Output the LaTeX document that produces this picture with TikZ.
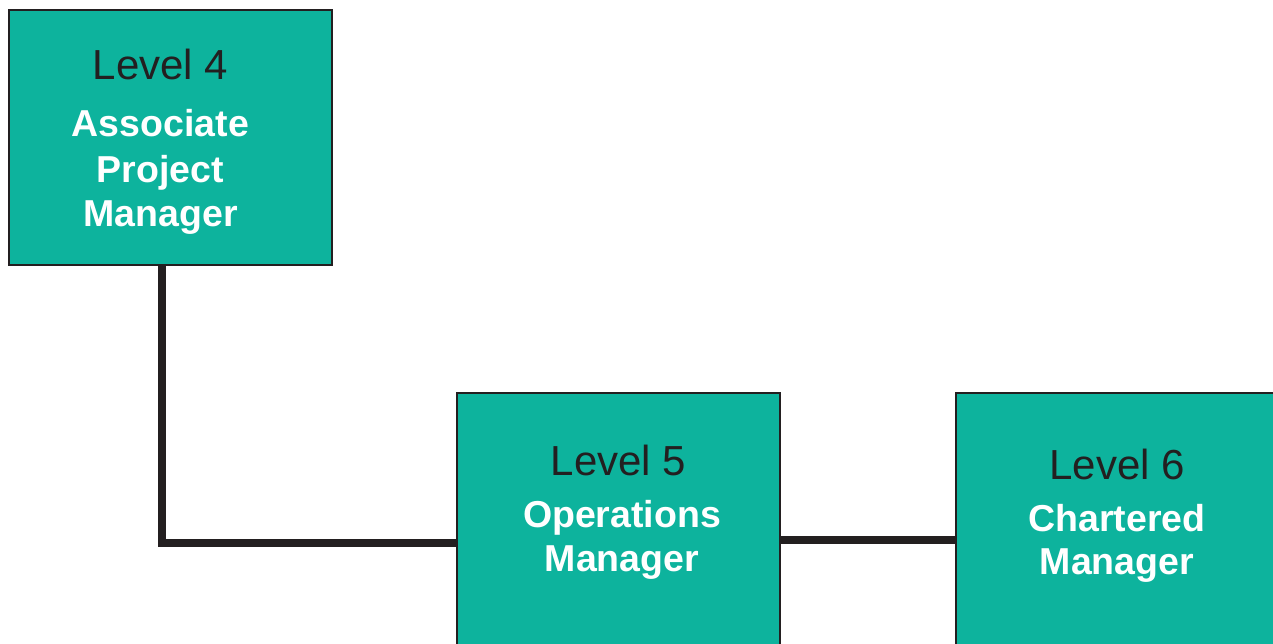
\documentclass[tikz,border=0pt]{standalone}
\usepackage{fontspec}
\setmainfont{Liberation Sans}
\definecolor{teal1}{HTML}{0DB39D}
\definecolor{ink}{HTML}{231F20}
\begin{document}
\begin{tikzpicture}[x=1pt,y=-1pt,
  box/.style={draw=ink, line width=2.5pt, fill=teal1, rectangle, inner sep=0pt, outer sep=0pt, minimum width=323pt, minimum height=255pt},
  lvl/.style={anchor=base, inner sep=0pt, text=ink, font=\fontsize{42}{48}\selectfont},
  role/.style={anchor=base, inner sep=0pt, text=white, font=\fontsize{37.5}{44}\selectfont\bfseries},
  conn/.style={draw=ink, line width=8pt}]
\useasboundingbox (0,0) rectangle (1273,644);
\clip (0,0) rectangle (1273,644);
\node[box] (b1) at (170.5,137.5) {};
\node[box] (b2) at (618.5,520.5) {};
\node[box] (b3) at (1117.5,520.5) {};
\coordinate (c1) at (161.5,542.5);
\coordinate (c2) at (0,539.5);
\draw[conn] (b1.south -| c1) -- (c1) -- (c1 -| b2.west);
\draw[conn] (c2 -| b2.east) -- (c2 -| b3.west);
% texts
\node[lvl] (t1) at (160.5,80) {Level 4};
\node[role] (r1a) at (160.5,137) {Associate};
\node[role] (r1b) at (160.5,182.5) {Project};
\node[role] (r1c) at (160.5,227) {Manager};
\node[lvl] (t2) at (618.5,475) {Level 5};
\node[role] (r2a) at (622,527) {Operations};
\node[role] (r2b) at (622,571) {Manager};
\node[lvl] (t3) at (1117,479) {Level 6};
\node[role] (r3a) at (1117,531) {Chartered};
\node[role] (r3b) at (1117,574) {Manager};
\end{tikzpicture}
\end{document}
